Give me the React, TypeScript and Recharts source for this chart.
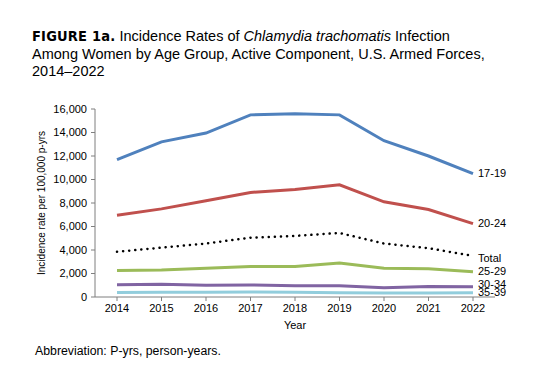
import React from "react";
import { LineChart, Line, XAxis, YAxis, Label } from "recharts";

const YEARS = ["2014", "2015", "2016", "2017", "2018", "2019", "2020", "2021", "2022"];
const AGE_17_19 = [11700, 13200, 13950, 15500, 15600, 15500, 13300, 12000, 10500];
const AGE_20_24 = [6950, 7500, 8200, 8900, 9150, 9550, 8100, 7450, 6250];
const TOTAL = [3850, 4200, 4550, 5050, 5200, 5450, 4550, 4150, 3500];
const AGE_25_29 = [2250, 2300, 2450, 2600, 2600, 2900, 2450, 2400, 2150];
const AGE_30_34 = [1050, 1080, 1000, 1030, 950, 950, 780, 900, 870];
const AGE_35_39 = [380, 400, 410, 430, 400, 370, 330, 330, 360];
const Y_TICKS = [0, 2000, 4000, 6000, 8000, 10000, 12000, 14000, 16000];
const Y_MINOR = [1000, 3000, 5000, 7000, 9000, 11000, 13000, 15000];

const data = YEARS.map((year, i) => ({
  year,
  a1719: AGE_17_19[i],
  a2024: AGE_20_24[i],
  total: TOTAL[i],
  a2529: AGE_25_29[i],
  a3034: AGE_30_34[i],
  a3539: AGE_35_39[i],
}));

const SERIES = [
  { key: "a1719", name: "17-19", color: "#4F81BD", dy: 0 },
  { key: "a2024", name: "20-24", color: "#C0504D", dy: 0 },
  { key: "total", name: "Total", color: "#000000", dy: 2, dotted: true },
  { key: "a2529", name: "25-29", color: "#9BBB59", dy: -1 },
  { key: "a3034", name: "30-34", color: "#8064A2", dy: -2.5 },
  { key: "a3539", name: "35-39", color: "#92CDDC", dy: -1 },
];

const FONT = "'Liberation Sans', Arial, sans-serif";

function endLabel(name: string, dy: number) {
  return (props: any) => {
    if (props.index !== YEARS.length - 1) return null;
    return (
      <text x={props.x + 5} y={props.y + dy} dy="0.35em" fontSize={11} fontFamily={FONT} fill="#000">
        {name}
      </text>
    );
  };
}

const titleLine: React.CSSProperties = {
  position: "absolute",
  left: 32,
  height: 18,
  lineHeight: "18px",
  fontSize: 14.5,
  whiteSpace: "nowrap",
  color: "#000",
};

export default function App() {
  return (
    <div style={{ position: "absolute", left: 0, top: 0, width: 550, height: 387, background: "#fff", fontFamily: FONT }}>
      <div style={{ ...titleLine, top: 26.5 }}>
        <span style={{ fontFamily: "'Liberation Sans Narrow', 'DejaVu Sans Condensed', Arial", fontWeight: "bold", fontSize: 14.5, letterSpacing: 0.2 }}>
          FIGURE 1a.
        </span>{" "}
        Incidence Rates of <i>Chlamydia trachomatis</i> Infection
      </div>
      <div style={{ ...titleLine, top: 44.5 }}>Among Women by Age Group, Active Component, U.S. Armed Forces,</div>
      <div style={{ ...titleLine, top: 62 }}>2014–2022</div>
      <div style={{ position: "absolute", left: 0, top: 0 }}>
        <LineChart width={550} height={387} data={data} margin={{ top: 109, right: 55, bottom: 60, left: 35 }}>
          <XAxis
            dataKey="year"
            padding={{ left: 22, right: 22 }}
            tick={{ fontSize: 11, fill: "#000", fontFamily: FONT }}
            tickLine={{ stroke: "#7f7f7f" }}
            axisLine={{ stroke: "#7f7f7f" }}
            tickSize={4}
            tickMargin={3}
            height={30}
            interval={0}
          >
            <Label value="Year" position="insideBottom" offset={-2} style={{ fontSize: 11, fill: "#000", fontFamily: FONT }} />
          </XAxis>
          <YAxis
            domain={[0, 16000]}
            ticks={Y_TICKS}
            interval={0}
            tickFormatter={(v: number) => v.toLocaleString("en-US")}
            tick={{ fontSize: 11, fill: "#000", fontFamily: FONT }}
            tickLine={{ stroke: "#7f7f7f" }}
            axisLine={{ stroke: "#7f7f7f" }}
            tickSize={4}
            tickMargin={4}
            width={60}
          >
            <Label
              value="Incidence rate per 100,000 p-yrs"
              angle={-90}
              position="insideLeft"
              offset={6}
              style={{ fontSize: 10, fill: "#000", fontFamily: FONT, textAnchor: "middle" }}
            />
          </YAxis>
          <YAxis
            yAxisId="minor"
            domain={[0, 16000]}
            ticks={Y_MINOR}
            interval={0}
            mirror
            tick={() => <g />}
            tickLine={{ stroke: "#7f7f7f" }}
            axisLine={false}
            tickSize={3}
            width={0}
          />
          {SERIES.map((s) => (
            <Line
              key={s.key}
              dataKey={s.key}
              type="linear"
              stroke={s.color}
              strokeWidth={s.dotted ? 2.5 : 3}
              strokeDasharray={s.dotted ? "0.1 6" : undefined}
              strokeLinecap={s.dotted ? "round" : "butt"}
              dot={false}
              activeDot={false}
              label={endLabel(s.name, s.dy)}
              isAnimationActive={false}
            />
          ))}
        </LineChart>
      </div>
      <div style={{ position: "absolute", left: 35, top: 344, fontSize: 12.3, color: "#000" }}>
        Abbreviation: P-yrs, person-years.
      </div>
    </div>
  );
}
